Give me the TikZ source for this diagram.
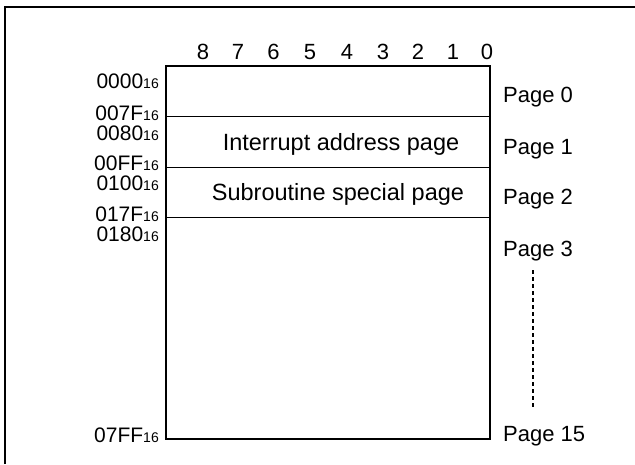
\documentclass[tikz,border=0pt]{standalone}
\usepackage{fontspec}
\setmainfont{Liberation Sans}
\newcommand{\hexsub}[1]{{\fontsize{14}{14}\selectfont #1}}
\begin{document}
\begin{tikzpicture}[x=1pt,y=-1pt,
  addr/.style={inner sep=0pt, font=\fontsize{21}{21}\selectfont, anchor=base east},
  pg/.style={inner sep=0pt, font=\fontsize{22}{22}\selectfont, anchor=base west},
  bit/.style={inner sep=0pt, font=\fontsize{22}{22}\selectfont, anchor=base},
  area/.style={inner sep=0pt, font=\fontsize{23.5}{23.5}\selectfont, anchor=base},
  outline/.style={line width=1.6pt},
  divider/.style={line width=1pt},
  frame/.style={line width=2pt},
  cont/.style={line width=1.2pt, dash pattern=on 4pt off 3pt}]
\useasboundingbox (0,0) rectangle (635,464);
\fill[white] (0,0) rectangle (635,464);
% outer frame (only top and left edges visible)
\coordinate (fbl) at (5,464);
\coordinate (ftl) at (5,7);
\coordinate (ftr) at (635,7);
\draw[frame] (fbl) -- (ftl) -- (ftr);
% memory box
\coordinate (tl) at (166,66);
\coordinate (br) at (490,439);
\draw[outline] (tl) rectangle (br);
\coordinate (d1l) at (166,116.5); \coordinate (d1r) at (490,116.5);
\coordinate (d2l) at (166,167);   \coordinate (d2r) at (490,167);
\coordinate (d3l) at (166,217);   \coordinate (d3r) at (490,217);
\draw[divider] (d1l) -- (d1r);
\draw[divider] (d2l) -- (d2r);
\draw[divider] (d3l) -- (d3r);
% bit numbers
\foreach \b/\x in {8/203,7/238,6/273.5,5/310,4/347,3/383,2/418,1/453,0/487}
  \node[bit] (bit\b) at (\x,59.3) {\b};
% address labels
\node[addr] (a0000) at (159,88.3) {0000\hexsub{16}};
\node[addr] (a007F) at (159,120) {007F\hexsub{16}};
\node[addr] (a0080) at (159,140) {0080\hexsub{16}};
\node[addr] (a00FF) at (159,170) {00FF\hexsub{16}};
\node[addr] (a0100) at (159,190.7) {0100\hexsub{16}};
\node[addr] (a017F) at (159,221.5) {017F\hexsub{16}};
\node[addr] (a0180) at (159,241) {0180\hexsub{16}};
\node[addr] (a07FF) at (159,442) {07FF\hexsub{16}};
% area texts
\node[area] (intr) at (341,150) {Interrupt address page};
\node[area] (subr) at (338,200.5) {Subroutine special page};
% page labels
\node[pg] (p0) at (503,102.7) {Page 0};
\node[pg] (p1) at (503,154.7) {Page 1};
\node[pg] (p2) at (503,204.7) {Page 2};
\node[pg] (p3) at (503,256) {Page 3};
\node[pg] (p15) at (503,441) {Page 15};
\coordinate (dtop) at (533,270);
\coordinate (dbot) at (533,407);
\draw[cont] (dtop) -- (dbot);
\end{tikzpicture}
\end{document}
